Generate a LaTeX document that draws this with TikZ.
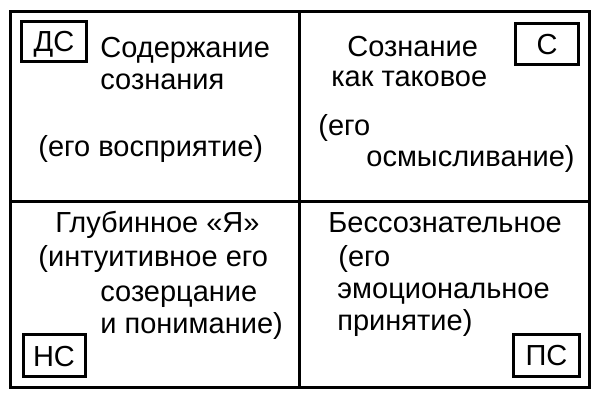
\documentclass[tikz,border=0pt]{standalone}
\usepackage{fontspec}
\setmainfont{Liberation Sans}
\begin{document}
\begin{tikzpicture}[x=0.5pt,y=-0.5pt,
  frame/.style={line width=1.5pt},
  txt/.style={anchor=base west,inner sep=0pt,font=\fontsize{14.5}{16}\selectfont},
  tag/.style={draw,line width=1.5pt,inner sep=0pt,text height=10.4pt,text depth=0pt,font=\fontsize{14.5}{16}\selectfont}]
\useasboundingbox (0,0) rectangle (600,400);
% frame
\coordinate (tl) at (10.5,12);
\coordinate (br) at (589.5,387.5);
\coordinate (mt) at (299.5,12);
\coordinate (mb) at (299.5,387.5);
\coordinate (ml) at (10.5,201.5);
\coordinate (mr) at (589.5,201.5);
\draw[frame] (tl) rectangle (br);
\draw[frame] (mt) -- (mb);
\draw[frame] (ml) -- (mr);
% tags
\node[tag,minimum width=32.5pt,minimum height=20pt] (ds) at (54,41.5) {ДС};
\node[tag,minimum width=31.5pt,minimum height=20.5pt] (c) at (547,44) {С};
\node[tag,minimum width=31pt,minimum height=21pt] (ns) at (54,356) {НС};
\node[tag,minimum width=33pt,minimum height=21pt] (ps) at (546.5,355.5) {ПС};
% top left
\node[txt] (tl1) at (100,58) {Содержание};
\node[txt] (tl2) at (100,90) {сознания};
\node[txt] (tl3) at (38,157) {(его восприятие)};
% top right
\node[txt] (tr1) at (347,57) {Сознание};
\node[txt] (tr2) at (331,87) {как таковое};
\node[txt] (tr3) at (318,136) {(его};
\node[txt] (tr4) at (366,167) {осмысливание)};
% bottom left
\node[txt] (bl1) at (55,233) {Глубинное «Я»};
\node[txt] (bl2) at (38,267) {(интуитивное его};
\node[txt] (bl3) at (100,302) {созерцание};
\node[txt] (bl4) at (100,334) {и понимание)};
% bottom right
\node[txt] (br1) at (328,233) {Бессознательное};
\node[txt] (br2) at (338,267) {(его};
\node[txt] (br3) at (337,299) {эмоциональное};
\node[txt] (br4) at (337,331) {принятие)};
\end{tikzpicture}
\end{document}
